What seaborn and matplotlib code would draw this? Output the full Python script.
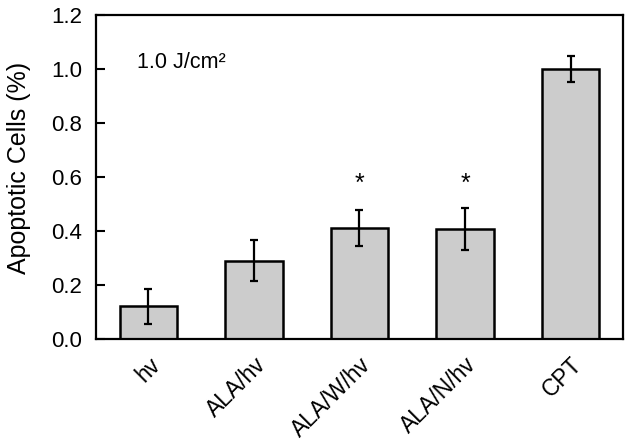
import matplotlib
matplotlib.use("Agg")
import matplotlib.pyplot as plt
import seaborn as sns
import pandas as pd

categories = ["hv", "ALA/hv", "ALA/W/hv", "ALA/N/hv", "CPT"]
values = [0.122, 0.291, 0.413, 0.409, 0.999]
errors = [0.064, 0.076, 0.067, 0.077, 0.048]
star_labels = ["", "", "*", "*", ""]
yticks = [0.0, 0.2, 0.4, 0.6, 0.8, 1.0, 1.2]
annotation = "1.0 J/cm²"

sns.set_style("white")
plt.rcParams["font.family"] = ["Liberation Sans", "DejaVu Sans"]
plt.rcParams["text.color"] = "black"
plt.rcParams["axes.labelcolor"] = "black"
plt.rcParams["xtick.color"] = "black"
plt.rcParams["ytick.color"] = "black"

df = pd.DataFrame({"cond": categories, "val": values})

fig = plt.figure(figsize=(6.32, 4.42), dpi=100)
ax = fig.add_axes([0.1514, 0.2324, 0.8348, 0.7337])

sns.barplot(data=df, x="cond", y="val", order=categories, color="#cccccc",
            saturation=1, errorbar=None, width=0.544, edgecolor="black",
            linewidth=1.8, ax=ax)
ax.errorbar(range(len(categories)), values, yerr=errors, fmt="none",
            ecolor="black", elinewidth=1.6, capsize=2.8, capthick=1.6, zorder=5)

for i, s in enumerate(star_labels):
    if s:
        ax.text(i, 0.575, s, ha="center", va="center", fontsize=18)

ax.text(0.078, 0.852, annotation, transform=ax.transAxes, ha="left",
        va="center", fontsize=15.5, color="black")

ax.set_xlim(-0.5, 4.5)
ax.set_ylim(0, 1.2)
ax.set_yticks(yticks)
ax.set_yticklabels([f"{t:.1f}" for t in yticks], fontsize=16)
ax.set_xticks(range(len(categories)))
ax.set_xticklabels(categories, rotation=45, ha="right", rotation_mode="anchor",
                   fontsize=16.5)
ax.tick_params(axis="y", direction="in", length=6.5, width=1.5, pad=10, left=True)
ax.tick_params(axis="x", length=0, pad=10)
ax.set_xlabel("")
ax.set_ylabel("Apoptotic Cells (%)", fontsize=18)
ax.yaxis.set_label_coords(-0.123, 0.528)
for sp in ax.spines.values():
    sp.set_visible(True)
    sp.set_linewidth(1.6)
    sp.set_color("black")

fig.savefig("out.png", dpi=100)
